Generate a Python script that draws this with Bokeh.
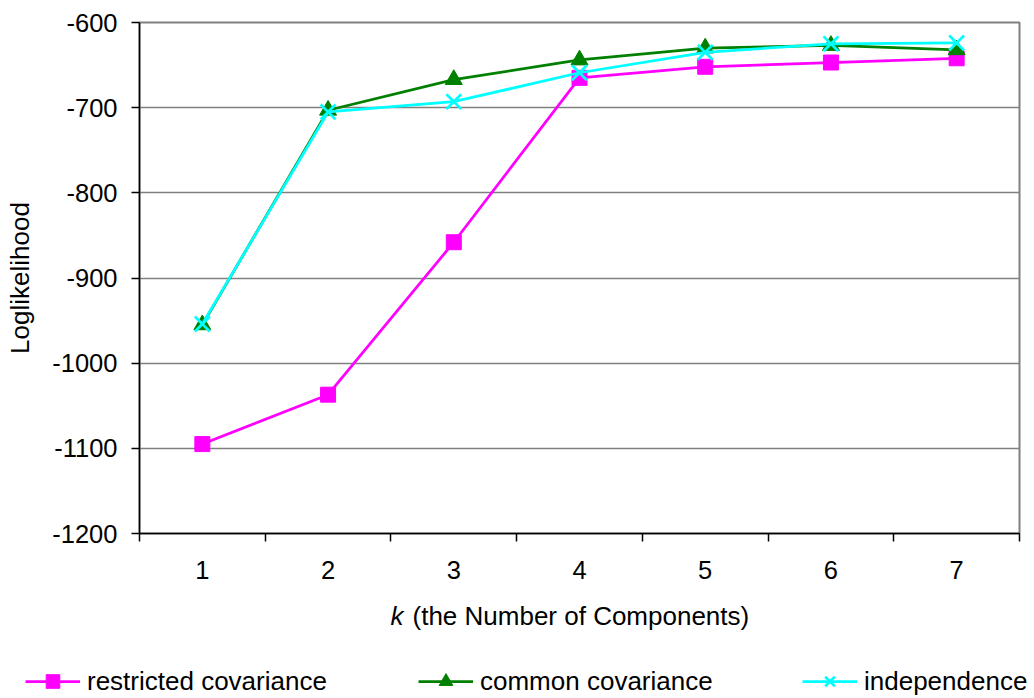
from bokeh.plotting import figure
from bokeh.models import Range1d, FixedTicker, Label, Legend, LegendItem
from bokeh.layouts import column
from bokeh.embed import file_html
from bokeh.resources import INLINE

# Number of mixture components
k_values = [1, 2, 3, 4, 5, 6, 7]
k_labels = ["1", "2", "3", "4", "5", "6", "7"]

# Log-likelihood per model
restricted_cov = [-1095, -1037, -858, -665, -652, -647, -642]
common_cov = [-955, -703, -667, -644, -630, -627, -632]
independence = [-954, -705, -693, -659, -635, -625, -624]

y_ticks = [-1200, -1100, -1000, -900, -800, -700, -600]
y_tick_labels = ["-1200", "-1100", "-1000", "-900", "-800", "-700", "-600"]

FONT = "Liberation Sans"
TICK_FS = "25.5px"
FS = "26px"

# ---- main chart ----
p = figure(width=1034, height=600, output_backend="svg", toolbar_location=None,
           x_range=Range1d(0.5, 7.5), y_range=Range1d(-1200, -600),
           min_border_left=139, min_border_right=15, min_border_top=22,
           min_border_bottom=67)
p.frame_align = False

p.background_fill_color = "white"
p.border_fill_color = "white"
p.outline_line_color = "#808080"
p.outline_line_width = 2

p.xaxis.ticker = FixedTicker(ticks=k_values,
                             minor_ticks=[0.5, 1.5, 2.5, 3.5, 4.5, 5.5, 6.5, 7.5])
p.xaxis.major_label_overrides = dict(zip(k_values, k_labels))
p.xaxis.major_tick_line_color = None
p.xaxis.major_tick_out = 0
p.xaxis.major_tick_in = 0
p.xaxis.minor_tick_line_color = "black"
p.xaxis.minor_tick_line_width = 1.5
p.xaxis.minor_tick_out = 8
p.xaxis.minor_tick_in = 0
p.xaxis.major_label_standoff = 19

p.yaxis.ticker = FixedTicker(ticks=y_ticks)
p.yaxis.major_label_overrides = dict(zip(y_ticks, y_tick_labels))
p.yaxis.minor_tick_line_color = None
p.yaxis.major_tick_line_color = "black"
p.yaxis.major_tick_line_width = 1.5
p.yaxis.major_tick_out = 8
p.yaxis.major_tick_in = 0
p.yaxis.major_label_standoff = 14
p.yaxis.axis_label = "Loglikelihood"
p.yaxis.axis_label_standoff = 14

for ax in (p.xaxis, p.yaxis):
    ax.axis_line_color = "black"
    ax.axis_line_width = 1.5
    ax.major_label_text_font = FONT
    ax.major_label_text_font_size = TICK_FS
    ax.major_label_text_color = "black"
    ax.axis_label_text_font = FONT
    ax.axis_label_text_font_size = FS
    ax.axis_label_text_font_style = "normal"
    ax.axis_label_text_color = "black"

p.xgrid.grid_line_color = None
p.ygrid.ticker = FixedTicker(ticks=y_ticks)
p.ygrid.grid_line_color = "#808080"
p.ygrid.grid_line_width = 1.5

series = [
    ("restricted covariance", restricted_cov, "#FF00FF", "square", 15),
    ("common covariance", common_cov, "#008000", "triangle", 17),
    ("independence", independence, "#00FFFF", "x", 21),
]

def add_series(fig, xs, ys, color, marker, size):
    ln = fig.line(xs, ys, line_color=color, line_width=2.75)
    if marker == "x":
        mk = fig.scatter(xs, ys, marker=marker, size=size,
                         line_color=color, line_width=2.75)
    else:
        mk = fig.scatter(xs, ys, marker=marker, size=size,
                         fill_color=color, line_color=color)
    return ln, mk

for name, vals, color, marker, size in series:
    add_series(p, k_values, vals, color, marker, size)

# ---- strip below: x-axis title and legend (1 data unit = 1 px) ----
q = figure(width=1034, height=98, output_backend="svg", toolbar_location=None,
           x_range=Range1d(0, 1034), y_range=Range1d(0, 98),
           min_border=0, min_border_left=0, min_border_right=0,
           min_border_top=0, min_border_bottom=0,
           x_axis_type=None, y_axis_type=None)
q.frame_align = False
q.grid.visible = False
q.outline_line_color = None
q.background_fill_color = "white"
q.border_fill_color = "white"

q.add_layout(Label(x=390, y=83, text="k", text_font=FONT, text_font_size=FS,
                   text_font_style="italic", text_baseline="middle",
                   text_align="left", text_color="black"))
q.add_layout(Label(x=412, y=83, text="(the Number of Components)",
                   text_font=FONT, text_font_size=FS, text_baseline="middle",
                   text_align="left", text_color="black"))

# legend swatches use NaN placeholders so nothing is drawn in the strip itself
nan = float("nan")
legend_x = [25, 418, 802]
for (name, vals, color, marker, size), lx in zip(series, legend_x):
    ln, mk = add_series(q, [nan], [nan], color, marker, size)
    q.add_layout(Legend(items=[LegendItem(label=name, renderers=[ln, mk])],
                        location=(lx, 0), orientation="horizontal",
                        label_text_font=FONT, label_text_font_size=FS,
                        label_text_color="black", glyph_width=55,
                        glyph_height=34, label_standoff=7, padding=0,
                        margin=0, border_line_color=None,
                        background_fill_alpha=0))

layout = column(p, q, spacing=0)
open("out.html", "w").write(file_html(layout, INLINE))
